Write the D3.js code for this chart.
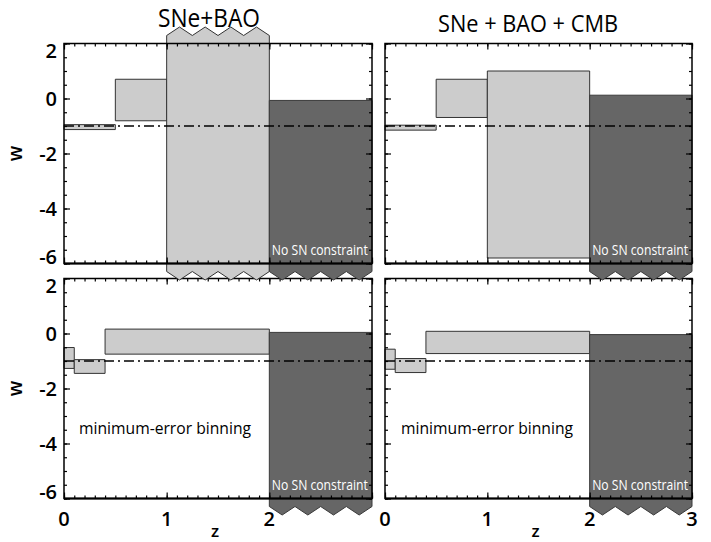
<!DOCTYPE html>
<html><head><meta charset="utf-8">
<script src="https://cdn.jsdelivr.net/npm/d3@7"></script>
<style>body{margin:0;background:#fff} svg{display:block}</style>
</head><body>
<svg id="chart" width="711" height="542"></svg>
<script>
// ---------- data ----------
const zEdgesUniform = [0, 0.5, 1.0, 2.0, 3.0];
const zEdgesMinErr  = [0, 0.1, 0.4, 2.0, 3.0];
// null = unconstrained beyond the plotted range
const wLowSNeBAO     = [-1.13, -0.81, null, null];
const wHighSNeBAO    = [-0.95,  0.70, null, -0.07];
const wLowSNeBAOCMB  = [-1.15, -0.69, -5.80, null];
const wHighSNeBAOCMB = [-0.97,  0.70,  1.00, 0.12];
const wLowMinErrSNeBAO     = [-1.27, -1.45, -0.75, null];
const wHighMinErrSNeBAO    = [-0.51, -0.95,  0.16, 0.04];
const wLowMinErrSNeBAOCMB  = [-1.30, -1.42, -0.73, null];
const wHighMinErrSNeBAOCMB = [-0.57, -0.91,  0.08, -0.04];
const noSNBin = [false, false, false, true];
const wFiducial = -1;
const yTickValues = [-6, -4, -2, 0, 2];
const xTickValues = [0, 1, 2, 3];
const titles = ["SNe+BAO", "SNe + BAO + CMB"];
const noteText = "No SN constraint";
const binningText = "minimum-error binning";

// ---------- layout ----------
const svg = d3.select("#chart");
const FONT = "'Open Sans', 'Liberation Sans', sans-serif";
const cols = [[64, 372], [385, 692]];
const rows = [[43.5, 263.5], [278.5, 498.5]];

const panels = [
  {r:1, c:0, edges: zEdgesMinErr,  lo: wLowMinErrSNeBAO,    hi: wHighMinErrSNeBAO,    note: true, bin: true},
  {r:1, c:1, edges: zEdgesMinErr,  lo: wLowMinErrSNeBAOCMB, hi: wHighMinErrSNeBAOCMB, note: true, bin: true},
  {r:0, c:0, edges: zEdgesUniform, lo: wLowSNeBAO,          hi: wHighSNeBAO,          note: true},
  {r:0, c:1, edges: zEdgesUniform, lo: wLowSNeBAOCMB,       hi: wHighSNeBAOCMB,       note: true},
];

function boxPath(xl, xr, yt, yb, topOpen, botOpen, fTop, fBot) {
  const c = 8, t = 8.5, n = 4, w = xr - xl;
  const pts = [];
  if (topOpen) {
    const ye = fTop - c;
    pts.push([xl, ye]);
    for (let k = 0; k < n; k++) {
      pts.push([xl + (k + 0.5) / n * w, ye - t]);
      pts.push([xl + (k + 1) / n * w, ye]);
    }
  } else { pts.push([xl, yt]); pts.push([xr, yt]); }
  if (botOpen) {
    const ye = fBot + c;
    pts.push([xr, ye]);
    for (let k = 0; k < n; k++) {
      pts.push([xr - (k + 0.5) / n * w, ye + t]);
      pts.push([xr - (k + 1) / n * w, ye]);
    }
  } else { pts.push([xr, yb]); pts.push([xl, yb]); }
  return d3.line()(pts) + "Z";
}

panels.forEach(p => {
  const [px0, px1] = cols[p.c], [py0, py1] = rows[p.r];
  const x = d3.scaleLinear().domain([0, 3]).range([px0, px1]);
  const y = d3.scaleLinear().domain([-6, 2]).range([py1, py0]);
  const g = svg.append("g");

  // bars
  const bins = d3.range(p.edges.length - 1).map(i => ({
    z0: p.edges[i], z1: p.edges[i + 1], lo: p.lo[i], hi: p.hi[i], dark: noSNBin[i]
  }));
  g.selectAll("path.bin").data(bins).join("path")
    .attr("class", "bin")
    .attr("d", d => boxPath(x(d.z0), x(d.z1),
      d.hi === null ? null : y(d.hi), d.lo === null ? null : y(d.lo),
      d.hi === null, d.lo === null, py0, py1))
    .attr("fill", d => d.dark ? "#666666" : "#cccccc")
    .attr("stroke", d => d.dark ? "#3a3a3a" : "#333")
    .attr("stroke-width", 1);

  // fiducial line
  g.append("line")
    .attr("x1", x(0)).attr("x2", x(3))
    .attr("y1", y(wFiducial)).attr("y2", y(wFiducial))
    .attr("stroke", "#000").attr("stroke-width", 1.3)
    .attr("stroke-dasharray", "10,4,2,4");

  // ticks
  const tk = (sel) => { sel.select(".domain").remove(); sel.selectAll("line").attr("stroke", "#000").attr("stroke-width", 1.2); };
  const yMinor = d3.range(-6, 2.001, 0.5);
  const xMinor = d3.range(0, 30.5, 1).map(v => v / 10);
  g.append("g").attr("transform", `translate(${px0},0)`).call(d3.axisLeft(y).tickValues(yTickValues).tickSize(-6).tickFormat("")).call(tk);
  g.append("g").attr("transform", `translate(${px0},0)`).call(d3.axisLeft(y).tickValues(yMinor).tickSize(-3).tickFormat("")).call(tk);
  g.append("g").attr("transform", `translate(${px1},0)`).call(d3.axisRight(y).tickValues(yTickValues).tickSize(-6).tickFormat("")).call(tk);
  g.append("g").attr("transform", `translate(${px1},0)`).call(d3.axisRight(y).tickValues(yMinor).tickSize(-3).tickFormat("")).call(tk);
  g.append("g").attr("transform", `translate(0,${py0})`).call(d3.axisTop(x).tickValues(xTickValues).tickSize(-6).tickFormat("")).call(tk);
  g.append("g").attr("transform", `translate(0,${py0})`).call(d3.axisTop(x).tickValues(xMinor).tickSize(-3).tickFormat("")).call(tk);
  g.append("g").attr("transform", `translate(0,${py1})`).call(d3.axisBottom(x).tickValues(xTickValues).tickSize(-6).tickFormat("")).call(tk);
  g.append("g").attr("transform", `translate(0,${py1})`).call(d3.axisBottom(x).tickValues(xMinor).tickSize(-3).tickFormat("")).call(tk);

  // frame
  g.append("rect").attr("x", px0).attr("y", py0).attr("width", px1 - px0).attr("height", py1 - py0)
    .attr("fill", "none").attr("stroke", "#000").attr("stroke-width", 1.5);
  g.append("line").attr("x1", px0).attr("x2", px1).attr("y1", py1).attr("y2", py1)
    .attr("stroke", "#000").attr("stroke-width", 2);

  // y tick labels (left column only)
  if (p.c === 0) {
    g.selectAll("text.yl").data(yTickValues).join("text")
      .attr("class", "yl")
      .attr("x", px0 - 7)
      .attr("y", v => v === 2 ? y(v) + 14 : (v === -6 ? y(v) : y(v) + 7))
      .attr("text-anchor", "end")
      .attr("font-family", FONT).attr("font-size", 20).attr("font-weight", 600).attr("fill", "#000")
      .text(v => v < 0 ? "-" + Math.abs(v) : String(v));
    g.append("text")
      .attr("transform", `translate(22,${(py0 + py1) / 2}) rotate(-90)`)
      .attr("text-anchor", "middle")
      .attr("font-family", FONT).attr("font-size", 19).attr("font-weight", 600).attr("fill", "#000")
      .text("w");
  }
  // x tick labels (bottom row only)
  if (p.r === 1) {
    const xl = p.c === 0 ? xTickValues.slice(0, 3) : xTickValues;
    g.selectAll("text.xl").data(xl).join("text")
      .attr("class", "xl")
      .attr("x", v => x(v)).attr("y", 526)
      .attr("text-anchor", "middle")
      .attr("font-family", FONT).attr("font-size", 20).attr("font-weight", 600).attr("fill", "#000")
      .text(v => String(v));
    g.append("text")
      .attr("x", (px0 + px1) / 2 - 3).attr("y", 537)
      .attr("text-anchor", "middle")
      .attr("font-family", FONT).attr("font-size", 17).attr("font-weight", 600).attr("fill", "#000")
      .text("z");
  }
  // notes
  if (p.note) {
    g.append("text")
      .attr("x", x(2) + 2.5).attr("y", py1 - 9)
      .attr("font-family", FONT).attr("font-size", 15).attr("fill", "#fff")
      .attr("textLength", 96).attr("lengthAdjust", "spacingAndGlyphs")
      .text(noteText);
  }
  if (p.bin) {
    g.append("text")
      .attr("x", p.c === 0 ? 79 : 401).attr("y", 434)
      .attr("font-family", FONT).attr("font-size", 17).attr("fill", "#000")
      .attr("textLength", 172).attr("lengthAdjust", "spacingAndGlyphs")
      .text(binningText);
  }
});

// titles
svg.append("text").attr("x", 158).attr("y", 27)
  .attr("font-family", FONT).attr("font-size", 25).attr("fill", "#000")
  .attr("textLength", 102).attr("lengthAdjust", "spacingAndGlyphs")
  .text(titles[0]);
svg.append("text").attr("x", 438).attr("y", 32)
  .attr("font-family", FONT).attr("font-size", 24).attr("fill", "#000")
  .attr("textLength", 180).attr("lengthAdjust", "spacingAndGlyphs")
  .text(titles[1]);
</script>
</body></html>
